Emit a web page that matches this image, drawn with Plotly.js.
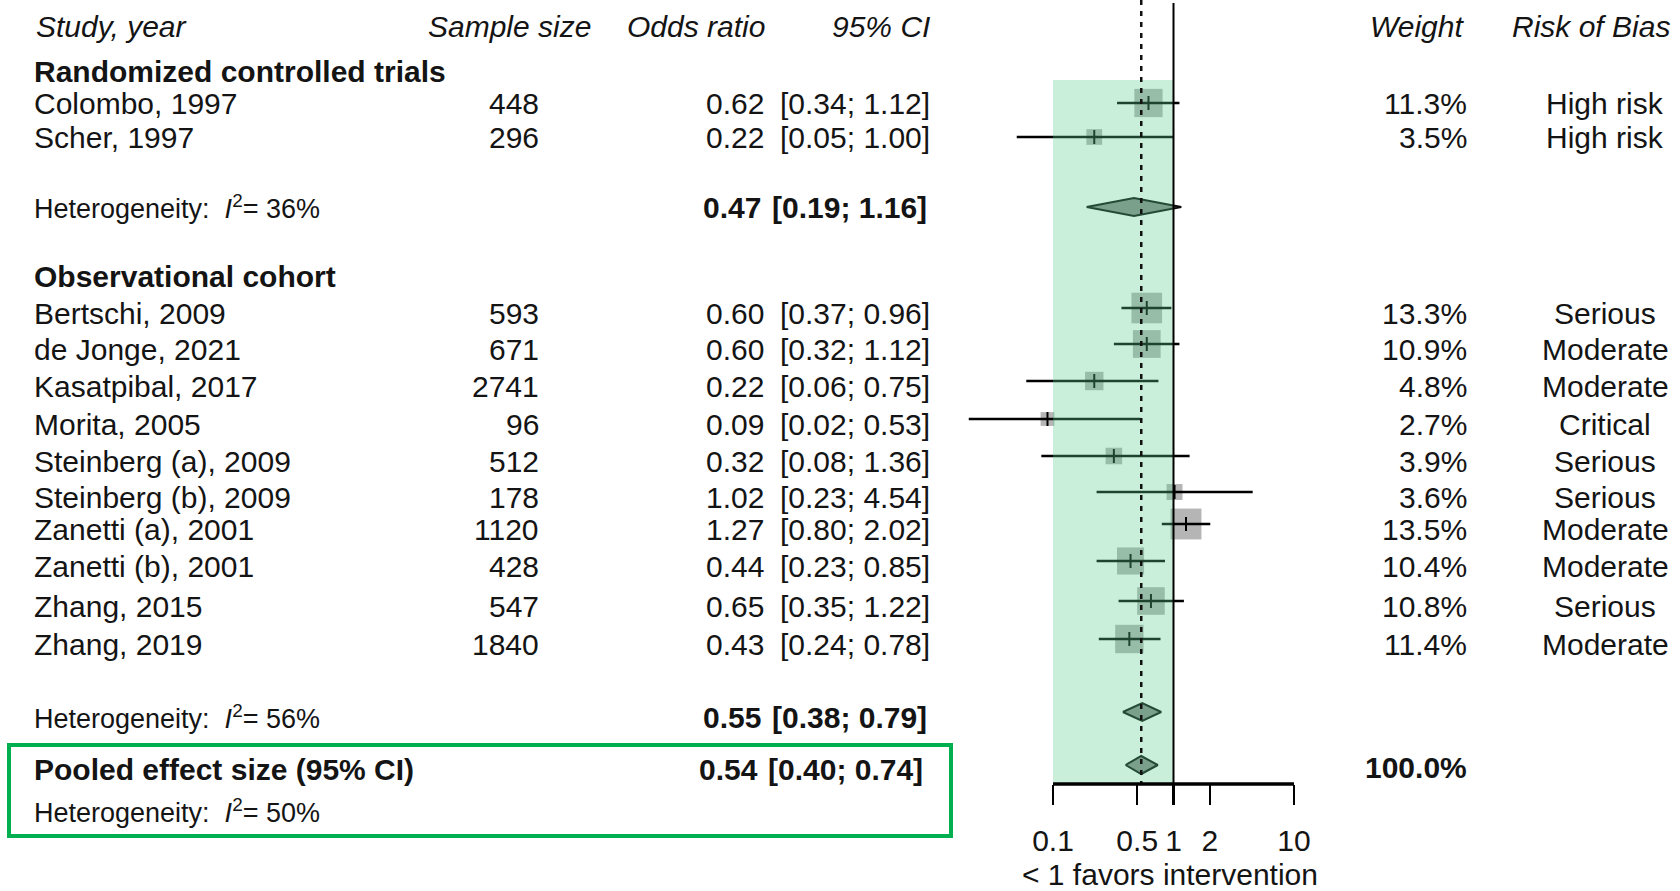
<!DOCTYPE html>
<html>
<head>
<meta charset="utf-8">
<script src="https://cdn.plot.ly/plotly-3.0.1.min.js"></script>
<style>
  html, body { margin: 0; padding: 0; background: #fff; }
  #chart { width: 1680px; height: 891px; }
</style>
</head>
<body>
<div id="chart"></div>
<script>
// ---------------- DATA ----------------
const studies = ["Colombo, 1997", "Scher, 1997", "Bertschi, 2009", "de Jonge, 2021", "Kasatpibal, 2017",
  "Morita, 2005", "Steinberg (a), 2009", "Steinberg (b), 2009", "Zanetti (a), 2001", "Zanetti (b), 2001",
  "Zhang, 2015", "Zhang, 2019"];
const studyGroup = [0, 0, 1, 1, 1, 1, 1, 1, 1, 1, 1, 1];
const sampleSize = [448, 296, 593, 671, 2741, 96, 512, 178, 1120, 428, 547, 1840];
const oddsRatio = [0.62, 0.22, 0.60, 0.60, 0.22, 0.09, 0.32, 1.02, 1.27, 0.44, 0.65, 0.43];
const ciLower = [0.34, 0.05, 0.37, 0.32, 0.06, 0.02, 0.08, 0.23, 0.80, 0.23, 0.35, 0.24];
const ciUpper = [1.12, 1.00, 0.96, 1.12, 0.75, 0.53, 1.36, 4.54, 2.02, 0.85, 1.22, 0.78];
const weightPct = [11.3, 3.5, 13.3, 10.9, 4.8, 2.7, 3.9, 3.6, 13.5, 10.4, 10.8, 11.4];
const riskOfBias = ["High risk", "High risk", "Serious", "Moderate", "Moderate", "Critical", "Serious",
  "Serious", "Moderate", "Moderate", "Serious", "Moderate"];

const groupNames = ["Randomized controlled trials", "Observational cohort"];
const groupOR = [0.47, 0.55];
const groupLower = [0.19, 0.38];
const groupUpper = [1.16, 0.79];
const groupI2 = [36, 56];

const pooledLabel = "Pooled effect size (95% CI)";
const pooledOR = 0.54;
const pooledLower = 0.40;
const pooledUpper = 0.74;
const pooledI2 = 50;
const pooledWeight = "100.0%";

const headers = ["Study, year", "Sample size", "Odds ratio", "95% CI", "Weight", "Risk of Bias"];
const tickValues = [0.1, 0.5, 1, 2, 10];
const tickLabels = ["0.1", "0.5", "1", "2", "10"];
const axisTitle = "< 1 favors intervention";

// ---------------- LAYOUT (pixel positions) ----------------
const W = 1680, H = 891;
const FONT = "Liberation Sans, Arial, Helvetica, sans-serif";
const TXT = "#141414";
const rowY = [103, 137, 313, 349, 386, 424, 461, 497, 529, 566, 606, 644];
const groupLabelY = [71, 276];
const groupSummaryY = [207, 717];
const groupMarkShift = [0, -5];
const pooledY = 769, pooledHetY = 811, pooledMarkShift = -4;
const headerY = 26;
const axisY = 784, shadeTop = 80;
const diamondHalf = 9;
const fs = 30, fsHet = 27;

const px = v => v / W;
const fmt2 = v => v.toFixed(2);
const ciText = (l, u) => "[" + fmt2(l) + "; " + fmt2(u) + "]";

// ---------------- TRACES ----------------
const markY = rowY.map((y, i) => y + groupMarkShift[studyGroup[i]]);

const ciX = [], ciY = [];
for (let i = 0; i < studies.length; i++) {
  ciX.push(ciLower[i], ciUpper[i], null);
  ciY.push(markY[i], markY[i], null);
}

const traces = [];
traces.push({
  type: "scatter", mode: "markers", x: oddsRatio, y: markY, hoverinfo: "skip",
  marker: { symbol: "square", size: weightPct.map(w => 8.4 * Math.sqrt(w)), color: "#969696", line: { width: 0 } }
});
traces.push({
  type: "scatter", mode: "lines", x: ciX, y: ciY, hoverinfo: "skip",
  line: { color: "#000", width: 2.5 }
});
traces.push({
  type: "scatter", mode: "markers", x: oddsRatio, y: markY, hoverinfo: "skip",
  marker: { symbol: "line-ns-open", size: 10, color: "#000", line: { color: "#000", width: 2 } }
});

function diamond(est, lo, hi, yc) {
  return {
    type: "scatter", mode: "lines", fill: "toself", fillcolor: "#8a8a8a", hoverinfo: "skip",
    x: [lo, est, hi, est, lo], y: [yc, yc - diamondHalf, yc, yc + diamondHalf, yc],
    line: { color: "#0a0a0a", width: 2 }
  };
}
for (let g = 0; g < groupNames.length; g++) {
  traces.push(diamond(groupOR[g], groupLower[g], groupUpper[g], groupSummaryY[g] + groupMarkShift[g]));
}
traces.push(diamond(pooledOR, pooledLower, pooledUpper, pooledY + pooledMarkShift));

// ---------------- ANNOTATIONS ----------------
const ann = [];
function txt(text, x, y, anchor, opts) {
  opts = opts || {};
  ann.push({
    xref: "paper", yref: "y", x: px(x), y: y, xanchor: anchor, yanchor: "middle",
    text: text, showarrow: false,
    font: { family: FONT, size: opts.size || fs, color: opts.color || TXT }
  });
}
// headers
txt("<i>" + headers[0] + "</i>", 34, headerY, "left");
txt("<i>" + headers[1] + "</i>", 593, headerY, "right");
txt("<i>" + headers[2] + "</i>", 767, headerY, "right");
txt("<i>" + headers[3] + "</i>", 932, headerY, "right");
txt("<i>" + headers[4] + "</i>", 1466, headerY, "right");
txt("<i>" + headers[5] + "</i>", 1672, headerY, "right");

// group labels
for (let g = 0; g < groupNames.length; g++) {
  txt("<b>" + groupNames[g] + "</b>", 32, groupLabelY[g], "left");
}
// study rows
for (let i = 0; i < studies.length; i++) {
  txt(studies[i], 32, rowY[i], "left");
  txt(String(sampleSize[i]), 541, rowY[i], "right");
  txt(fmt2(oddsRatio[i]), 766, rowY[i], "right");
  txt(ciText(ciLower[i], ciUpper[i]), 932, rowY[i], "right");
  txt(weightPct[i].toFixed(1) + "%", 1469, rowY[i], "right");
  txt(riskOfBias[i], 1605, rowY[i], "center");
}
// subgroup summaries
for (let g = 0; g < groupNames.length; g++) {
  txt("Heterogeneity:  <i>I</i><sup>2</sup>= " + groupI2[g] + "%", 32, groupSummaryY[g], "left", { size: fsHet });
  txt("<b>" + fmt2(groupOR[g]) + "</b>", 763, groupSummaryY[g], "right");
  txt("<b>" + ciText(groupLower[g], groupUpper[g]) + "</b>", 929, groupSummaryY[g], "right");
}
// pooled
txt("<b>" + pooledLabel + "</b>", 32, pooledY, "left");
txt("<b>" + fmt2(pooledOR) + "</b>", 760, pooledY, "right");
txt("<b>" + ciText(pooledLower, pooledUpper) + "</b>", 925, pooledY, "right");
txt("<b>" + pooledWeight + "</b>", 1469, pooledY - 2, "right");
txt("Heterogeneity:  <i>I</i><sup>2</sup>= " + pooledI2 + "%", 32, pooledHetY, "left", { size: fsHet });

// ---------------- SHAPES (data values on the log axis) ----------------
const lastTick = tickValues[tickValues.length - 1];
const shapes = [
  { type: "rect", xref: "x", yref: "y", layer: "above", x0: tickValues[0], x1: 1, y0: shadeTop, y1: axisY,
    fillcolor: "rgba(90,204,141,0.33)", line: { width: 0 } },
  { type: "line", xref: "x", yref: "y", layer: "above", x0: 1, x1: 1, y0: 3, y1: axisY,
    line: { color: "#000", width: 2 } },
  { type: "line", xref: "x", yref: "y", layer: "above", x0: pooledOR, x1: pooledOR, y0: 0, y1: axisY,
    line: { color: "#111", width: 2.5, dash: "5px,6px" } },
  { type: "line", xref: "x", yref: "y", layer: "above", x0: tickValues[0], x1: lastTick,
    y0: axisY, y1: axisY, line: { color: "#000", width: 3.5 } },
  { type: "rect", xref: "paper", yref: "y", x0: px(9), x1: px(951), y0: 745, y1: 836,
    line: { color: "#00b050", width: 4 }, fillcolor: "rgba(0,0,0,0)" }
];

// x axis: 0.1 at px 1053, 10 at px 1294
const pxPerDecade = (1294 - 1053) / 2;
const dom0 = 940, dom1 = 1400;
const xr0 = -1 - (1053 - dom0) / pxPerDecade;
const xr1 = -1 + (dom1 - 1053) / pxPerDecade;

const layout = {
  width: W, height: H,
  margin: { l: 0, r: 0, t: 0, b: 0, pad: 0 },
  paper_bgcolor: "#fff", plot_bgcolor: "rgba(0,0,0,0)",
  showlegend: false, hovermode: false,
  font: { family: FONT, color: TXT },
  xaxis: {
    type: "log", domain: [px(dom0), px(dom1)], range: [xr0, xr1],
    anchor: "free", position: 1 - axisY / H,
    showgrid: false, zeroline: false, showline: false,
    tickvals: tickValues, ticktext: tickLabels,
    ticks: "outside", ticklen: 20, tickwidth: 2.5, tickcolor: "#000",
    ticklabelstandoff: 10,
    tickfont: { family: FONT, size: fs, color: TXT },
    title: { text: axisTitle, font: { family: FONT, size: fs, color: TXT }, standoff: 11 }
  },
  yaxis: { domain: [0, 1], range: [H, 0], visible: false, fixedrange: true },
  shapes: shapes,
  annotations: ann
};

Plotly.newPlot("chart", traces, layout, { staticPlot: true, displayModeBar: false });
</script>
</body>
</html>
